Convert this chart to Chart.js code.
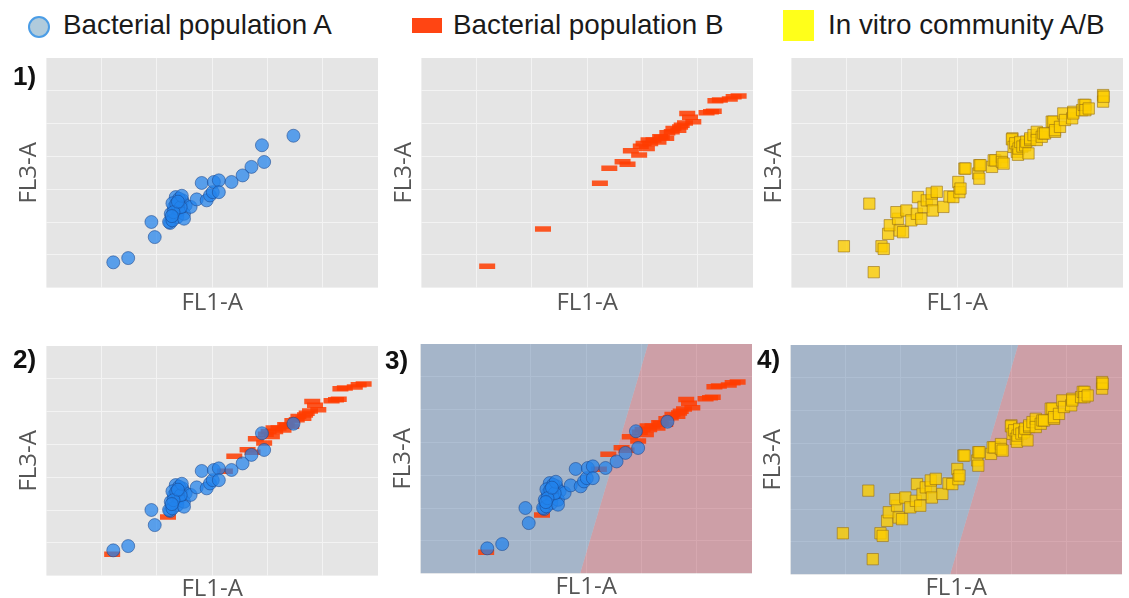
<!DOCTYPE html>
<html>
<head>
<meta charset="utf-8">
<script src="https://cdn.jsdelivr.net/npm/chart.js"></script>
<style>
body { margin: 0; background: #fff; }
#wrap { position: relative; width: 1129px; height: 598px; overflow: hidden; font-family: "Liberation Sans", Arial, sans-serif; }
canvas { position: absolute; }
.tag { position: absolute; font-weight: bold; font-size: 26px; line-height: 1; color: #111; z-index: 2; }
.leg { position: absolute; top: 11px; font-size: 27.8px; line-height: 1; color: #1a1a1a; white-space: nowrap; }
.mk { position: absolute; box-sizing: border-box; }
</style>
</head>
<body>
<div id="wrap">
  <div class="mk" style="left:28px;top:16px;width:22px;height:22px;border-radius:50%;background:#b0cbdc;border:2px solid #4b9de6;"></div>
  <div class="leg" style="left:63px;">Bacterial population A</div>
  <div class="mk" style="left:412px;top:18px;width:30px;height:15px;background:#ff4513;"></div>
  <div class="leg" style="left:453px;">Bacterial population B</div>
  <div class="mk" style="left:783px;top:10px;width:31px;height:31px;background:#ffff1a;"></div>
  <div class="leg" style="left:828px;">In vitro community A/B</div>

  <div class="tag" style="left:13px;top:63px;">1)</div>
  <div class="tag" style="left:13px;top:346px;">2)</div>
  <div class="tag" style="left:385px;top:347px;">3)</div>
  <div class="tag" style="left:757px;top:346px;">4)</div>

  <canvas id="c1" width="366" height="264" style="left:12px;top:58px;"></canvas>
  <canvas id="c2" width="366" height="264" style="left:387px;top:58px;"></canvas>
  <canvas id="c3" width="366" height="264" style="left:757px;top:58px;"></canvas>
  <canvas id="c4" width="366" height="264" style="left:12px;top:346px;"></canvas>
  <canvas id="c5" width="366" height="264" style="left:386px;top:344px;"></canvas>
  <canvas id="c6" width="366" height="264" style="left:756px;top:345px;"></canvas>
</div>
<script>
// axis ranges (arbitrary units, grid every 1)
const xMax = 6;
const yMax = 7;

// population A (circles)
const popA = [
  [1.21, 0.77], [1.48, 0.90], [1.90, 2.00], [1.96, 1.54], [2.24, 1.97], [2.25, 2.25],
  [2.34, 2.76], [2.46, 2.66], [2.52, 2.51], [2.31, 2.46], [2.40, 2.35], [2.37, 2.15],
  [2.49, 2.25], [2.22, 2.00], [2.28, 2.05], [2.49, 2.10], [2.61, 2.46], [2.40, 2.71],
  [2.28, 2.57], [2.35, 2.55], [2.43, 2.45], [2.30, 2.30], [2.45, 2.80], [2.38, 2.62],
  [2.27, 2.18], [2.72, 2.69], [2.81, 3.19], [2.90, 2.66], [2.96, 2.81], [3.01, 2.91],
  [3.03, 3.22], [3.12, 3.27], [3.12, 2.91], [3.35, 3.22], [3.55, 3.42], [3.71, 3.68],
  [3.94, 3.83], [3.90, 4.34], [4.47, 4.63]
];

// population B (bars)
const popB = [
  [1.19, 0.65], [2.20, 1.79], [3.23, 3.18], [3.40, 3.64], [3.64, 3.84], [3.73, 3.76],
  [3.79, 4.17], [3.94, 4.04], [3.97, 4.31], [4.02, 4.39], [4.08, 4.24], [4.11, 4.50],
  [4.14, 4.39], [4.20, 4.50], [4.29, 4.44], [4.32, 4.60], [4.35, 4.58], [4.43, 4.55],
  [4.45, 4.72], [4.53, 4.75], [4.56, 4.85], [4.65, 4.80], [4.68, 4.90], [4.71, 4.95],
  [4.77, 5.02], [4.81, 5.31], [4.86, 5.19], [4.92, 5.06], [5.16, 5.33], [5.24, 5.36],
  [5.29, 5.38], [5.32, 5.70], [5.40, 5.72], [5.58, 5.75], [5.65, 5.82], [5.74, 5.84]
];

// in vitro community A/B (squares)
const community = [
  [0.95, 1.26], [1.49, 0.47], [1.41, 2.56], [1.63, 1.26], [1.67, 1.18], [1.75, 1.64],
  [1.78, 1.90], [1.93, 2.10], [1.96, 1.74], [2.02, 1.69], [1.90, 2.30], [2.08, 2.35],
  [2.17, 2.05], [2.27, 2.25], [2.29, 2.76], [2.35, 2.10], [2.39, 2.46], [2.45, 2.66],
  [2.54, 2.66], [2.54, 2.87], [2.56, 2.35], [2.63, 2.92], [2.75, 2.46], [2.86, 2.78],
  [2.93, 2.76], [3.02, 3.22], [3.04, 2.91], [3.06, 3.02], [3.13, 3.63], [3.15, 3.63],
  [3.38, 3.48], [3.40, 3.73], [3.42, 3.73], [3.40, 3.32], [3.63, 3.68], [3.66, 3.88],
  [3.69, 3.88], [3.81, 3.98], [3.81, 3.83], [3.84, 3.78], [4.00, 4.55], [3.99, 4.52],
  [4.02, 4.29], [4.05, 4.40], [4.08, 4.14], [4.10, 4.05], [4.11, 4.24], [4.14, 4.44],
  [4.18, 4.30], [4.23, 4.34], [4.25, 4.45], [4.29, 4.09], [4.32, 4.50], [4.32, 4.55],
  [4.38, 4.65], [4.44, 4.75], [4.44, 4.50], [4.53, 4.60], [4.56, 4.70], [4.59, 4.70],
  [4.71, 5.06], [4.74, 5.06], [4.77, 4.75], [4.77, 4.80], [4.86, 4.90], [4.92, 5.31],
  [4.95, 5.11], [5.08, 5.16], [5.10, 5.36], [5.10, 5.31], [5.26, 5.41], [5.29, 5.57],
  [5.32, 5.57], [5.32, 5.41], [5.38, 5.46], [5.64, 5.87], [5.64, 5.67], [5.65, 5.82]
];

// classifier boundary: x at y = 0 and x at y = yMax
const boundaryX = [2.89, 4.12];

const pts = arr => arr.map(p => ({ x: p[0], y: p[1] }));

const dsA = () => ({
  data: pts(popA), pointStyle: 'circle', pointRadius: 6.5,
  pointBackgroundColor: 'rgba(33,130,235,0.72)', pointBorderColor: 'rgba(25,70,140,0.55)', pointBorderWidth: 1
});
const dsB = () => ({
  data: pts(popB), pointStyle: 'line', pointRadius: 8,
  pointBorderColor: 'rgba(255,60,0,0.85)', pointBorderWidth: 5.5
});
const dsC = () => ({
  data: pts(community), pointStyle: 'rect', pointRadius: 8,
  pointBackgroundColor: 'rgba(252,205,0,0.8)', pointBorderColor: 'rgba(150,110,20,0.6)', pointBorderWidth: 1
});
const regions = () => [
  { type: 'line', showLine: true, data: [{ x: 0, y: 0 }, { x: boundaryX[0], y: 0 }, { x: boundaryX[1], y: yMax }],
    fill: 'end', backgroundColor: 'rgba(70,110,160,0.4)', borderColor: 'transparent', borderWidth: 0, pointRadius: 0 },
  { type: 'line', showLine: true, data: [{ x: boundaryX[0], y: 0 }, { x: boundaryX[1], y: yMax }, { x: xMax, y: yMax }],
    fill: 'start', backgroundColor: 'rgba(169,56,76,0.4)', borderColor: 'transparent', borderWidth: 0, pointRadius: 0 }
];

const panelBg = {
  id: 'panelBg',
  beforeDraw(chart) {
    const a = chart.chartArea, c = chart.ctx;
    c.save();
    c.fillStyle = '#e5e5e5';
    c.fillRect(a.left, a.top, a.right - a.left, a.bottom - a.top);
    c.restore();
  }
};

function axis(text, max, pad) {
  return {
    type: 'linear', min: 0, max: max,
    ticks: { display: false, stepSize: 1 },
    grid: { drawTicks: false, lineWidth: 1,
      color: ctx => (ctx.tick && (ctx.tick.value === 0 || ctx.tick.value === max)) ? 'rgba(0,0,0,0)' : '#f3f3f3' },
    border: { display: false },
    title: { display: true, text: text, color: '#555', font: { family: 'Open Sans', size: 24, lineHeight: 1.1 }, padding: pad }
  };
}

function panel(id, datasets, bottomRow) {
  const xPad = bottomRow ? { top: 0, bottom: 8 } : { top: 2, bottom: 6 };
  new Chart(document.getElementById(id), {
    type: 'scatter',
    data: { datasets: datasets },
    options: {
      responsive: false,
      animation: false,
      events: [],
      layout: { padding: 0, autoPadding: false },
      plugins: { legend: { display: false }, tooltip: { enabled: false } },
      scales: { x: axis('FL1-A', xMax, xPad), y: axis('FL3-A', yMax, { top: 4, bottom: 4 }) }
    },
    plugins: [panelBg]
  });
}

panel('c1', [dsA()], false);
panel('c2', [dsB()], false);
panel('c3', [dsC()], false);
panel('c4', [dsA(), dsB()], true);
panel('c5', [dsA(), dsB()].concat(regions()), true);
panel('c6', [dsC()].concat(regions()), true);
</script>
</body>
</html>
